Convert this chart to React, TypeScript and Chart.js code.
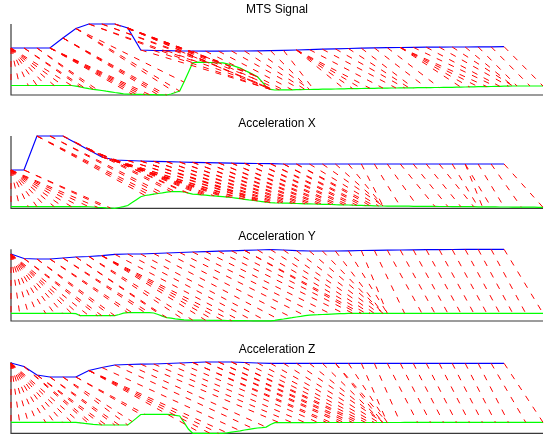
import { useEffect, useRef } from "react";
import { Chart, registerables } from "chart.js";

Chart.register(...registerables);

// ---------- DATA ----------
// y = amplitude above the panel baseline.
// Top (blue) signal: 39 samples. Bottom (green) signal: 124 samples.
// The top signal is sampled once every 3 bottom samples.
// Each entry of a *Links list holds the bottom sample indices that the top sample
// (same position in the list) is linked to by a red dashed line.
const titles = ["MTS Signal", "Acceleration X", "Acceleration Y", "Acceleration Z"];
const TOP_STEP = 3;

// MTS Signal
const mtsTop = [47, 47, 47, 47, 57, 66.5, 71, 71, 71, 67, 45, 44.5, 44.3, 44, 44, 43.8, 43.8, 44, 44, 44.1, 44.3, 44.6, 45, 45.4, 45.8, 46.1, 46.5, 46.8, 47.1, 47.3, 47.5, 47.7, 47.8, 47.9, 48, 48, 48.1, 48.2, 48.3];
const mtsBottom = [
  9.5, 9.5, 9.5, 9.5, 9.5, 9.5, 9.5, 9.5, 9.5, 9.5, 9.5, 9.5, 9.5, 9.5, 9.5,
  8.9, 8.1, 7.2, 6.4, 5.7, 5.1, 4.5, 3.8, 3.2, 2.5, 1.9, 1.2, 0.9, 0.8, 0.7, 0.6, 0.5, 0.4, 0.3, 0.2, 0.1, 0,
  1.0, 2.5, 3.9, 12.9, 22.5, 32.3, 32.9, 32.7, 32.6, 32.5, 32.3, 32.2, 32.1, 31.2, 29.8, 28.4, 26.9, 24.7, 22.6, 20.4, 18.2, 13.3, 8.2,
  5.6, 5.0, 5.1, 5.1, 5.2, 5.2, 5.3, 5.4, 5.5, 5.5, 5.6, 5.7, 5.8, 5.9, 5.9, 6.0, 6.1, 6.2, 6.3, 6.4, 6.4, 6.5, 6.6, 6.7,
  6.7, 6.8, 6.9, 6.9, 7.0, 7.0, 7.1, 7.1, 7.2, 7.2, 7.3, 7.3, 7.4, 7.4, 7.5, 7.5, 7.6, 7.6, 7.7,
  7.8, 7.9, 8.0, 8.1, 8.2, 8.3, 8.3, 8.4, 8.5, 8.6, 8.7, 8.8, 8.9, 9.0, 9.0, 9.0, 9.0, 9.0, 9.0, 9.0, 9.0,
];
const mtsLinks = [
  [0, 2, 4, 6, 8, 10, 12, 14], [16, 17], [19, 20], [28, 29, 30, 31, 32], [34, 35, 36], [38, 39, 40], [42, 43], [45, 46], [48, 49],
  [56, 57, 58, 59, 60], [60], [60], [61], [61], [62], [63], [65], [67], [68], [69], [69], [70],
  [77, 79, 81, 83], [86], [89], [91], [92], [93], [96], [99], [104, 106, 108, 110], [112], [113],
  [115], [116], [116], [117], [120], [123],
];

// Acceleration X
const accXTop = [38.3, 38.3, 72.3, 72.3, 72.3, 65.3, 58.3, 51.3, 48.3, 47.8, 47.3, 47, 46.6, 46.3, 46, 45.7, 45.4, 45.2, 45, 44.8, 44.6, 44.3, 44.3, 44.3, 44.3, 44.3, 44.3, 44.3, 44.3, 44.3, 44.3, 44.3, 44.3, 44.3, 44.3, 44.3, 44.3, 44.3, 44.3];
const accXBottom = [
  1.6, 1.6, 1.6, 1.6, 1.6, 1.6, 1.6, 1.6, 1.6, 1.6, 1.6, 1.6, 1.6, 1.6, 1.6, 1.6, 1.6, 1.6,
  1.55, 1.3, 1.0, 0.8, 0.5, 0.3, 0.0, 0.8, 1.6, 2.8, 5.7, 8.6, 11.5, 12.8, 13.4, 14.1, 14.8, 15.4, 16.1, 16.6, 16.6, 16.6,
  16.3, 15.2, 14.2, 13.9, 13.5, 13.1, 12.7, 12.4, 12.0, 11.6, 11.2, 10.8, 10.2, 9.6, 9.0, 8.4, 7.9, 7.3, 6.7, 6.1,
  5.6, 5.4, 5.3, 5.2, 5.1, 4.9, 4.8, 4.7, 4.5, 4.4, 4.3, 4.2, 4.0, 3.9, 3.8, 3.6, 3.5, 3.4, 3.3, 3.1, 3.0, 2.9, 2.7, 2.6, 2.5, 2.3,
  2.3, 2.2, 2.2, 2.2, 2.1, 2.1, 2.1, 2.0, 2.0, 2.0, 1.9, 1.9, 1.9, 1.8, 1.8, 1.8, 1.7, 1.7, 1.7, 1.6, 1.6, 1.6, 1.5, 1.5,
  1.4, 1.4, 1.4, 1.3, 1.3, 1.3, 1.2, 1.2, 1.2, 1.1, 1.1, 1.1, 1.0, 1.0,
];
const accXLinks = [
  [0, 2, 4, 6, 8, 10, 12, 14, 16, 18, 20], [22, 23], [31, 32, 33], [34, 35], [37, 38], [40, 41], [44, 45, 46, 47], [49, 50, 51],
  [53, 54], [56, 57], [58, 59, 60], [61, 62], [63, 64], [65, 66], [67, 68], [69, 70], [71, 72], [73, 74], [75, 76], [77, 78],
  [79, 80], [81, 82], [83, 84], [85], [86], [86], [86], [86], [90], [94], [98], [101], [104], [107], [108], [109, 111],
  [114], [118], [123],
];

// Acceleration Y
const accYTop = [67, 62.5, 62, 62, 63, 64, 64.5, 65.3, 66.7, 67, 67, 67.5, 68, 68.5, 69, 69.4, 69.8, 70.2, 70.6, 71, 71.5, 71, 70.3, 70, 70, 70, 70.2, 70.5, 70.7, 70.9, 71, 71.2, 71.3, 71.4, 71.5, 71.6, 71.7, 71.7, 71.7];
const accYBottom = [
  7.7, 7.7, 7.7, 7.7, 7.7, 7.7, 7.7, 7.7, 7.7, 7.7, 7.7, 7.7, 7.7, 7.7, 7.7,
  7.3, 5.3, 5.3, 5.3, 5.3, 5.3, 5.3, 5.3, 5.3, 5.3, 6.5, 7.9, 8.3, 8.3, 8.3, 8.3, 8.3, 8.3,
  8.0, 6.5, 4.9, 3.4, 2.8, 2.2, 1.7, 1.1, 0.95, 0.9, 0.85, 0.8, 0.75, 0.7, 0.65, 0.6, 0.55, 0.5, 0.45, 0.4, 0.35, 0.3,
  0.25, 0.2, 0.15, 0.1, 0.05, 0.1, 0.7, 1.4, 2.0, 2.7, 3.3, 4.0, 4.6, 5.3, 5.9, 6.2, 6.3, 6.5, 6.7, 6.9, 7.1, 7.3, 7.4, 7.6,
  7.7, 7.7, 7.7, 7.7, 7.7, 7.7, 7.7, 7.7, 7.7, 7.7, 7.7, 7.7, 7.7, 7.7, 7.7, 7.7, 7.7, 7.7, 7.7, 7.7, 7.7, 7.7, 7.7,
  7.7, 7.7, 7.7, 7.7, 7.7, 7.7, 7.7, 7.7, 7.7, 7.7, 7.7, 7.7, 7.7, 7.7, 7.7, 7.7, 7.7, 7.7, 7.7, 7.7, 7.7, 7.7,
];
const accYLinks = [
  [0, 2, 4, 6, 8, 10, 12, 14, 16, 18], [20, 21], [23, 24], [27, 28], [31, 32], [35, 36], [40, 42], [45, 47, 49, 51],
  [53], [56], [59], [62], [65], [68], [71], [74], [77], [79], [80, 81], [82], [83],
  [84], [85], [86], [86], [86], [87], [87], [91], [95], [98], [101], [104], [107], [110], [113], [116], [119], [123],
];

// Acceleration Z
const accZTop = [70.3, 66.8, 58.3, 56.3, 56.3, 56.3, 62.8, 65.8, 68.3, 68.8, 69.1, 69.3, 69.8, 70.3, 70.8, 71.3, 71.3, 71.3, 70.8, 70.3, 70, 70, 70, 70, 70, 70, 70, 70, 70, 70, 70, 70, 70, 70, 70, 70, 70, 70, 70];
const accZBottom = [
  11, 11, 11, 11, 11, 11, 11, 11, 11, 11, 11, 11, 11, 11, 11,
  10.9, 10.4, 9.9, 9.5, 9.0, 8.6, 8.3, 8.3, 8.3, 8.3, 8.3, 8.3, 8.3, 11.7, 15.2, 18.8, 19, 19, 19, 19, 19, 19,
  18.6, 18.0, 17.3, 11.0, 4.3, 0, 0, 0, 0, 0, 0, 0, 0,
  0.4, 1.1, 1.8, 2.5, 3.3, 4.0, 4.7, 5.3, 5.7, 6.2, 8.8, 10.6,
  10.7, 10.7, 10.7, 10.7, 10.7, 10.7, 10.7, 10.7, 10.7,
  10.8, 10.8, 10.8, 10.8, 10.8, 10.8, 10.8, 10.8, 10.8, 10.8, 10.8, 10.8, 10.8, 10.8, 10.8, 10.8, 10.8, 10.8, 10.8, 10.8,
  10.9, 10.9, 10.9, 10.9, 10.9, 10.9, 10.9, 10.9, 10.9, 10.9, 10.9, 10.9, 10.9, 10.9, 10.9, 10.9, 10.9, 10.9, 10.9, 10.9,
  11, 11, 11, 11, 11, 11, 11, 11, 11, 11, 11, 11, 11,
];
const accZLinks = [
  [0, 2, 4, 6, 8, 10, 12, 14, 16], [18, 19], [21, 22], [24, 25], [27, 28], [30, 31], [44, 46, 48, 50], [53], [56],
  [59], [62], [65], [68], [71], [73, 74], [76, 77], [78, 79], [80, 81], [82], [83], [84], [85], [86],
  [86], [86], [86, 87], [87], [87], [90], [94], [97], [100], [103], [106], [109], [112], [115], [119], [123],
];

const yMaxes = [71, 72.3, 71.7, 71.3];

// ---------- LAYOUT ----------
const layouts = [
  { canvasTop: 0, titleY: 9.3, areaTop: 24, areaBottom: 95 },
  { canvasTop: 112, titleY: 123.3, areaTop: 136, areaBottom: 208.3 },
  { canvasTop: 226, titleY: 236.5, areaTop: 249.3, areaBottom: 321 },
  { canvasTop: 339, titleY: 349.5, areaTop: 362, areaBottom: 433.3 },
];

const panels = [
  { title: titles[0], top: mtsTop, bottom: mtsBottom, links: mtsLinks, yMax: yMaxes[0], ...layouts[0] },
  { title: titles[1], top: accXTop, bottom: accXBottom, links: accXLinks, yMax: yMaxes[1], ...layouts[1] },
  { title: titles[2], top: accYTop, bottom: accYBottom, links: accYLinks, yMax: yMaxes[2], ...layouts[2] },
  { title: titles[3], top: accZTop, bottom: accZBottom, links: accZLinks, yMax: yMaxes[3], ...layouts[3] },
];

const W = 551;
const PAGE_H = 438;
const FONT_SIZE = 12;
const LINE_H = FONT_SIZE * 1.2;

const axisPlugin = {
  id: "axisLines",
  beforeDatasetsDraw(chart: any) {
    const { ctx, chartArea } = chart;
    const { left, right, top, bottom } = chartArea;
    ctx.save();
    ctx.strokeStyle = "#3a3a3a";
    ctx.lineWidth = 1.2;
    ctx.setLineDash([]);
    ctx.beginPath();
    ctx.moveTo(left, top);
    ctx.lineTo(left, bottom);
    ctx.lineTo(right, bottom);
    ctx.stroke();
    ctx.restore();
  },
};

function Panel({ cfg }: { cfg: any }) {
  const ref = useRef<HTMLCanvasElement | null>(null);
  const h = Math.min(104, PAGE_H - cfg.canvasTop);

  useEffect(() => {
    if (!ref.current) return;
    const datasets: any[] = [];
    cfg.links.forEach((targets: number[], i: number) => {
      targets.forEach((j: number) => {
        datasets.push({
          data: [
            { x: i * TOP_STEP, y: cfg.top[i] },
            { x: j, y: cfg.bottom[j] },
          ],
          showLine: true,
          borderColor: "#ff0000",
          borderWidth: 1,
          borderDash: [6, 7],
          pointRadius: 0,
          fill: false,
          clip: false,
        });
      });
    });
    datasets.push({
      data: cfg.top.map((v: number, i: number) => ({ x: i * TOP_STEP, y: v })),
      showLine: true,
      borderColor: "#0000ff",
      borderWidth: 1.2,
      pointRadius: 0,
      fill: false,
      clip: false,
    });
    datasets.push({
      data: cfg.bottom.map((v: number, j: number) => ({ x: j, y: v })),
      showLine: true,
      borderColor: "#00ff00",
      borderWidth: 1.2,
      pointRadius: 0,
      fill: false,
      clip: false,
    });

    const padTop = cfg.titleY - cfg.canvasTop - LINE_H / 2;
    const padBottom = cfg.areaTop - cfg.canvasTop - padTop - LINE_H;
    const layoutBottom = cfg.canvasTop + h - cfg.areaBottom;
    const xMax = cfg.bottom.length - 1;

    const chart = new Chart(ref.current, {
      type: "scatter",
      data: { datasets },
      options: {
        animation: false,
        responsive: false,
        devicePixelRatio: 1,
        events: [],
        layout: { padding: { left: 11, right: 8, top: 0, bottom: layoutBottom } },
        elements: { line: { tension: 0 } },
        scales: {
          x: { type: "linear", min: 0, max: xMax, display: false },
          y: { type: "linear", min: 0, max: cfg.yMax, display: false },
        },
        plugins: {
          legend: { display: false },
          tooltip: { enabled: false },
          title: {
            display: true,
            text: cfg.title,
            color: "#000000",
            font: { family: '"Liberation Sans", Arial, Helvetica, sans-serif', size: FONT_SIZE, weight: "normal" },
            padding: { top: padTop, bottom: padBottom },
          },
        },
      } as any,
      plugins: [axisPlugin],
    });
    return () => chart.destroy();
  }, []);

  return (
    <canvas
      ref={ref}
      width={W}
      height={h}
      style={{ position: "absolute", left: 0, top: cfg.canvasTop, width: W, height: h }}
    />
  );
}

export default function App() {
  return (
    <div
      style={{
        position: "fixed",
        left: 0,
        top: 0,
        width: W,
        height: PAGE_H,
        overflow: "hidden",
        background: "#ffffff",
      }}
    >
      {panels.map((p, k) => (
        <Panel key={k} cfg={p} />
      ))}
    </div>
  );
}
